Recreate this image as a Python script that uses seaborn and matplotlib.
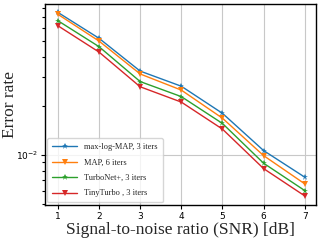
import matplotlib
matplotlib.use("Agg")
import matplotlib.pyplot as plt
import numpy as np
import pandas as pd
import seaborn as sns

SNR = [1, 2, 3, 4, 5, 6, 7]
MAXLOG_MAP = [0.0750, 0.0520, 0.0327, 0.0264, 0.0180, 0.01063, 0.00730]
MAP_6 = [0.0730, 0.0500, 0.0314, 0.0250, 0.0168, 0.0099, 0.00664]
TURBONET = [0.0667, 0.0462, 0.0282, 0.0228, 0.0156, 0.00889, 0.00604]
TINYTURBO = [0.0621, 0.0428, 0.0262, 0.0211, 0.0144, 0.00824, 0.00560]

LABELS = ["max-log-MAP, 3 iters", "MAP, 6 iters", "TurboNet+, 3 iters", "TinyTurbo , 3 iters"]
COLORS = ["#1f77b4", "#ff7f0e", "#2ca02c", "#d62728"]
MARKERS = ["*", "v", "*", "v"]

sns.set_theme(style="whitegrid")
plt.rcParams["axes.edgecolor"] = "black"
plt.rcParams["axes.linewidth"] = 1.0
plt.rcParams["grid.color"] = "#c8c8c8"

df = pd.DataFrame({
    "snr": SNR * 4,
    "err": MAXLOG_MAP + MAP_6 + TURBONET + TINYTURBO,
    "method": np.repeat(LABELS, len(SNR)),
})

fig, ax = plt.subplots(figsize=(3.25, 2.4), dpi=100)
sns.lineplot(data=df, x="snr", y="err", hue="method", style="method",
             palette=COLORS, markers=MARKERS, dashes=False, linewidth=1.0,
             markersize=5, markeredgewidth=0, ax=ax)

ax.set_yscale("log")
ax.set_ylim(0.00493, 0.0843)
ax.set_xlim(0.685, 7.27)
ax.set_xticks(SNR)
ax.tick_params(axis="both", which="both", labelsize=6.5, direction="out",
               length=3, width=0.8, left=True, bottom=True, colors="black", pad=2)
ax.tick_params(axis="y", which="minor", length=2)
ax.grid(True, which="major", color="#c8c8c8", linewidth=0.8)
for s in ax.spines.values():
    s.set_color("black")

ax.set_xlabel("Signal-to-noise ratio (SNR) [dB]", family="Liberation Serif", fontsize=12.5, labelpad=0)
ax.set_ylabel("Error rate", family="Liberation Serif", fontsize=12.5, labelpad=0)
ax.xaxis.set_label_coords(0.5, -0.085)
ax.yaxis.set_label_coords(-0.098, 0.5)

leg = ax.legend(loc="lower left", frameon=True, handlelength=3.0,
                borderpad=0.6, labelspacing=0.9, borderaxespad=0.3,
                prop={"family": "Liberation Serif", "size": 6})
leg.get_frame().set_edgecolor("#cccccc")

fig.subplots_adjust(left=0.138, right=0.972, top=0.983, bottom=0.146)
fig.savefig("out.png", dpi=100)
